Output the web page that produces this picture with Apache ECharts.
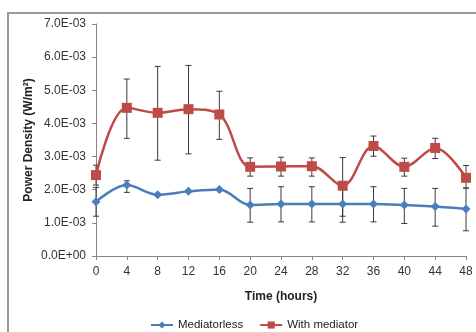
<!DOCTYPE html>
<html>
<head>
<meta charset="utf-8">
<script src="https://cdn.jsdelivr.net/npm/echarts@6/dist/echarts.min.js"></script>
<style>
  html,body{margin:0;padding:0;background:#fff;}
  #chart{width:476px;height:332px;}
</style>
</head>
<body>
<div id="chart"></div>
<script>
// 时间（小时）
var hours=[0,4,8,12,16,20,24,28,32,36,40,44,48];
// Mediatorless 平均值和误差范围
var mediatorless=[1.64e-3,2.14e-3,1.85e-3,1.95e-3,2.01e-3,1.54e-3,1.57e-3,1.57e-3,1.57e-3,1.57e-3,1.54e-3,1.49e-3,1.42e-3];
var mediatorlessLow=[1.20e-3,1.92e-3,1.85e-3,1.95e-3,2.01e-3,1.02e-3,1.03e-3,1.03e-3,1.02e-3,1.03e-3,0.98e-3,0.90e-3,0.76e-3];
var mediatorlessHigh=[2.07e-3,2.27e-3,1.85e-3,1.95e-3,2.01e-3,2.04e-3,2.09e-3,2.09e-3,2.09e-3,2.09e-3,2.04e-3,2.04e-3,2.05e-3];
// With mediator 平均值和误差范围
var withMediator=[2.44e-3,4.47e-3,4.32e-3,4.43e-3,4.27e-3,2.69e-3,2.70e-3,2.71e-3,2.12e-3,3.32e-3,2.69e-3,3.26e-3,2.36e-3];
var withMediatorLow=[2.14e-3,3.55e-3,2.89e-3,3.08e-3,3.52e-3,2.41e-3,2.41e-3,2.41e-3,1.20e-3,3.01e-3,2.41e-3,2.94e-3,2.05e-3];
var withMediatorHigh=[2.74e-3,5.34e-3,5.72e-3,5.75e-3,4.97e-3,2.96e-3,2.98e-3,2.96e-3,2.97e-3,3.62e-3,2.95e-3,3.55e-3,2.73e-3];

// 科学计数法格式 7.0E-03
var sci=function(v){
  if(Math.abs(v)<1e-12){ return '0.0E+00'; }
  var e=Math.floor(Math.log10(Math.abs(v))+1e-9);
  var m=v/Math.pow(10,e);
  return m.toFixed(1)+'E'+(e<0?'-':'+')+String(Math.abs(e)).padStart(2,'0');
};

var pairs=function(ys){
  return hours.map(function(h,i){ return [h,ys[i]]; });
};
var errData=function(lo,hi){
  return hours.map(function(h,i){ return [h,lo[i],hi[i]]; });
};

// 误差线
var renderErr=function(params,api){
  var x=api.value(0);
  var lo=api.value(1), hi=api.value(2);
  if(hi-lo<1e-9){ return null; }
  var p1=api.coord([x,lo]);
  var p2=api.coord([x,hi]);
  var w=3;
  var st={stroke:'#3a3a3a',lineWidth:1};
  return {
    type:'group',
    children:[
      {type:'line',shape:{x1:p1[0],y1:p1[1],x2:p2[0],y2:p2[1]},style:st},
      {type:'line',shape:{x1:p1[0]-w,y1:p1[1],x2:p1[0]+w,y2:p1[1]},style:st},
      {type:'line',shape:{x1:p2[0]-w,y1:p2[1],x2:p2[0]+w,y2:p2[1]},style:st}
    ]
  };
};

var font='"Liberation Sans", Arial, sans-serif';
var chart=echarts.init(document.getElementById('chart'));
chart.setOption({
  animation:false,
  textStyle:{fontFamily:font},
  graphic:[{
    type:'rect',
    shape:{x:8,y:13,width:520,height:400},
    style:{fill:'none',stroke:'#9a9a9a',lineWidth:2},
    silent:true,
    z:-10
  }],
  grid:{left:96,right:10,top:24,bottom:76},
  legend:{
    top:314,
    left:145,
    itemGap:16,
    itemWidth:22,
    itemHeight:9,
    textStyle:{fontSize:11.5,color:'#222',fontFamily:font},
    data:['Mediatorless','With mediator']
  },
  xAxis:{
    type:'value',
    min:0,max:48,interval:4,
    name:'Time (hours)',
    nameLocation:'middle',
    nameGap:35,
    nameMoveOverlap:false,
    nameTextStyle:{fontSize:12,fontWeight:'bold',color:'#222'},
    axisLine:{onZero:false,lineStyle:{color:'#868686',width:1}},
    axisTick:{show:true,length:4,lineStyle:{color:'#868686'}},
    axisLabel:{fontSize:12,color:'#333',margin:10},
    splitLine:{show:false}
  },
  yAxis:{
    type:'value',
    min:0,max:0.007,interval:0.001,
    name:'Power Density (W/m²)',
    nameLocation:'middle',
    nameRotate:90,
    nameGap:61,
    nameMoveOverlap:false,
    nameTextStyle:{fontSize:12,fontWeight:'bold',color:'#222'},
    axisLine:{show:true,lineStyle:{color:'#868686',width:1}},
    axisTick:{show:true,length:4,lineStyle:{color:'#868686'}},
    axisLabel:{fontSize:12,color:'#333',margin:10,formatter:sci},
    splitLine:{show:false}
  },
  series:[
    {
      name:'Mediatorless',
      type:'line',
      smooth:0.35,
      data:pairs(mediatorless),
      symbol:'diamond',
      symbolSize:9,
      lineStyle:{width:2.5,color:'#4a7ebb'},
      itemStyle:{color:'#4a7ebb'},
      z:3
    },
    {
      name:'With mediator',
      type:'line',
      smooth:0.35,
      data:pairs(withMediator),
      symbol:'rect',
      symbolSize:10,
      lineStyle:{width:2.5,color:'#be4b48'},
      itemStyle:{color:'#be4b48'},
      z:3
    },
    {
      type:'custom',
      renderItem:renderErr,
      data:errData(mediatorlessLow,mediatorlessHigh),
      encode:{x:0,y:[1,2]},
      silent:true,
      z:2
    },
    {
      type:'custom',
      renderItem:renderErr,
      data:errData(withMediatorLow,withMediatorHigh),
      encode:{x:0,y:[1,2]},
      silent:true,
      z:2
    }
  ]
});
</script>
</body>
</html>
